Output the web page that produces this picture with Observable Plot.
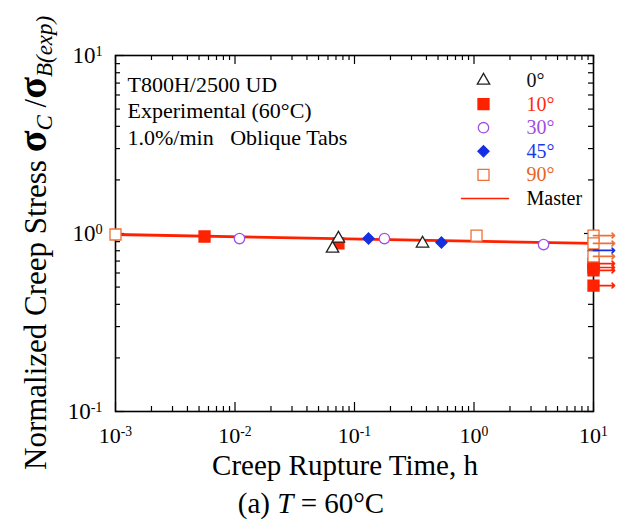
<!DOCTYPE html>
<html>
<head>
<meta charset="utf-8">
<script src="https://cdn.jsdelivr.net/npm/d3@7"></script>
<script src="https://cdn.jsdelivr.net/npm/@observablehq/plot@0.6"></script>
<style>
  html, body { margin: 0; padding: 0; background: #fff; }
  svg { display: block; }
</style>
</head>
<body>
<div id="chart"></div>
<script>
// ---------- data ----------
const timeTicks = [1e-3, 1e-2, 1e-1, 1, 10];
const timeTickExp = ["-3", "-2", "-1", "0", "1"];
const stressTicks = [0.1, 1, 10];
const stressTickExp = ["-1", "0", "1"];

const seriesNames = ["0°", "10°", "30°", "45°", "90°"];

const time0 = [0.0655, 0.0734, 0.371];
const stress0 = [0.823, 0.937, 0.879];

const time10 = [0.00556, 0.0734, 10, 10, 10, 10];
const stress10 = [0.962, 0.879, 0.678, 0.644, 0.620, 0.510];

const time30 = [0.0109, 0.178, 3.82];
const stress30 = [0.937, 0.937, 0.867];

const time45 = [0.131, 0.534, 10];
const stress45 = [0.937, 0.890, 0.803];

const time90 = [0.001, 1.05, 10, 10, 10];
const stress90 = [0.987, 0.974, 0.974, 0.879, 0.743];

const masterTime = [0.001, 10];
const masterStress = [0.987, 0.879];
const masterName = "Master";

const runoutTime = 10; // tests stopped at 10 h (arrows)

const annotationLines = ["T800H/2500 UD", "Experimental (60°C)", "1.0%/min\u00a0\u00a0\u00a0Oblique Tabs"];
const xTitle = "Creep Rupture Time, h";

// ---------- styles ----------
const serif = "'Liberation Serif', 'Times New Roman', Times, serif";
const seriesColors = ["#222222", "#ff2200", "#a050e8", "#1530e0", "#ec7038"];
const seriesSymbols = ["triangle", "square", "circle", "diamond2", "square"];
const seriesFilled = [false, true, false, true, false];
const seriesR = [4.6, 6.2, 5.2, 5.0, 6.2];
const textColors = ["#111111", "#ff2a10", "#a04ee0", "#1a3ae8", "#e8641c"];
const masterColor = "#ff2000";

const W = 623, H = 520, mL = 115, mR = 30, mT = 55, mB = 109;
const iw = W - mL - mR, ih = H - mT - mB;

const seriesData = [
  [time0, stress0], [time10, stress10], [time30, stress30], [time45, stress45], [time90, stress90]
].map(([t, s], k) => t.map((v, i) => ({time: v, stress: s[i], k})));

const minorOf = (decades) => decades.flatMap(d => d3.range(2, 10).map(m => m * d));
const timeMinor = minorOf(timeTicks.slice(0, -1));
const stressMinor = minorOf(stressTicks.slice(0, -1));

const majorLen = 9, minorLen = 5;
const tickStyle = {stroke: "black", strokeWidth: 1.2};

const marks = [
  Plot.frame({stroke: "black", strokeWidth: 1.6}),
  // inward ticks: bottom, top, left, right
  Plot.tickX(timeTicks, {x: d => d, insetTop: ih - majorLen, ...tickStyle}),
  Plot.tickX(timeMinor, {x: d => d, insetTop: ih - minorLen, ...tickStyle}),
  Plot.tickX(timeTicks, {x: d => d, insetBottom: ih - majorLen, ...tickStyle}),
  Plot.tickX(timeMinor, {x: d => d, insetBottom: ih - minorLen, ...tickStyle}),
  Plot.tickY(stressTicks, {y: d => d, insetRight: iw - majorLen, ...tickStyle}),
  Plot.tickY(stressMinor, {y: d => d, insetRight: iw - minorLen, ...tickStyle}),
  Plot.tickY(stressTicks, {y: d => d, insetLeft: iw - majorLen, ...tickStyle}),
  Plot.tickY(stressMinor, {y: d => d, insetLeft: iw - minorLen, ...tickStyle}),
  Plot.axisX(timeTicks, {anchor: "bottom", tickSize: 0, tickPadding: 16, fontSize: 22, fontFamily: serif, fill: "black",
    tickFormat: d => "10^" + timeTickExp[timeTicks.indexOf(d)], label: null}),
  Plot.axisY(stressTicks, {anchor: "left", tickSize: 0, tickPadding: 13, fontSize: 23, fontFamily: serif, fill: "black",
    tickFormat: d => "10^" + stressTickExp[stressTicks.indexOf(d)], label: null}),
  // master curve
  Plot.line(masterTime.map((t, i) => ({time: t, stress: masterStress[i]})),
    {x: "time", y: "stress", stroke: masterColor, strokeWidth: 2.8})
];

// draw order of data
const drawOrder = [1, 3, 2, 0, 4];
for (const k of drawOrder) {
  marks.push(Plot.dot(seriesData[k], {
    x: "time", y: "stress", symbol: () => seriesSymbols[k], r: seriesR[k],
    stroke: seriesColors[k], strokeWidth: 1.3,
    fill: seriesFilled[k] ? seriesColors[k] : "white"
  }));
}
// run-out arrows
for (const k of [4, 3, 1]) {
  marks.push(Plot.vector(seriesData[k].filter(d => d.time >= runoutTime), {
    x: "time", y: "stress", rotate: 90, length: 21, anchor: "start", r: 2,
    stroke: seriesColors[k], strokeWidth: 1.7
  }));
}

// annotation
marks.push(Plot.text([annotationLines.join("\n")], {
  frameAnchor: "top-left", dx: 12, dy: 17, lineAnchor: "top", lineHeight: 1.22,
  textAnchor: "start", fontSize: 22, fontFamily: serif, fill: "black"
}));

// legend
const legX = -110, legTextX = -67, legY0 = 25, legStep = 23.6;
seriesNames.forEach((name, k) => {
  marks.push(Plot.dot([name], {
    frameAnchor: "top-right", dx: legX, dy: legY0 + k * legStep,
    symbol: () => seriesSymbols[k], r: seriesR[k], stroke: seriesColors[k], strokeWidth: 1.3,
    fill: seriesFilled[k] ? seriesColors[k] : "white"
  }));
  marks.push(Plot.text([name], {
    frameAnchor: "top-right", dx: legTextX, dy: legY0 + k * legStep, textAnchor: "start",
    lineAnchor: "middle", fontSize: 20, fontFamily: serif, fill: textColors[k]
  }));
});
marks.push(Plot.vector([masterName], {
  frameAnchor: "top-right", dx: legX - 22, dy: legY0 + 5 * legStep, rotate: 90, length: 47,
  anchor: "start", r: 0, stroke: masterColor, strokeWidth: 1.4
}));
marks.push(Plot.text([masterName], {
  frameAnchor: "top-right", dx: legTextX, dy: legY0 + 5 * legStep, textAnchor: "start",
  lineAnchor: "middle", fontSize: 20, fontFamily: serif, fill: "black"
}));

const chart = Plot.plot({
  width: W, height: H,
  marginLeft: mL, marginRight: mR, marginTop: mT, marginBottom: mB,
  style: {fontFamily: serif, background: "white", overflow: "visible"},
  x: {type: "log", domain: [1e-3, 10], axis: null},
  y: {type: "log", domain: [0.1, 10], axis: null},
  marks
});

// superscripts for tick labels
chart.querySelectorAll('g[aria-label="x-axis tick label"] text, g[aria-label="y-axis tick label"] text').forEach(t => {
  const [base, exp] = t.textContent.split("^");
  t.textContent = "";
  const s = d3.select(t);
  s.append("tspan").text(base);
  s.append("tspan").attr("dy", "-0.5em").attr("font-size", "0.62em").text(exp);
});

const svg = d3.select(chart);
// x title
svg.append("text").attr("x", 345).attr("y", 475).attr("text-anchor", "middle")
  .attr("font-family", serif).attr("font-size", 29).attr("fill", "black").text(xTitle);
// caption
const cap = svg.append("text").attr("x", 311).attr("y", 513).attr("text-anchor", "middle")
  .attr("font-family", serif).attr("font-size", 29).attr("fill", "black");
cap.append("tspan").text("(a) ");
cap.append("tspan").attr("font-style", "italic").text("T");
cap.append("tspan").text(" = 60°C");
// y title
const yt = svg.append("text").attr("transform", "translate(46,470) rotate(-90)")
  .attr("text-anchor", "start")
  .attr("font-family", serif).attr("font-size", 31).attr("fill", "black");
yt.append("tspan").text("Normalized Creep Stress ");
yt.append("tspan").attr("font-size", 40).attr("font-weight", "bold").text("σ");
yt.append("tspan").attr("font-size", 23).attr("font-style", "italic").attr("dy", 6).text("C");
yt.append("tspan").attr("dy", -6).text(" /");
yt.append("tspan").attr("font-size", 40).attr("font-weight", "bold").text("σ");
yt.append("tspan").attr("font-size", 23).attr("font-style", "italic").attr("dy", 6).text("B(exp)");

document.getElementById("chart").appendChild(chart);
</script>
</body>
</html>
